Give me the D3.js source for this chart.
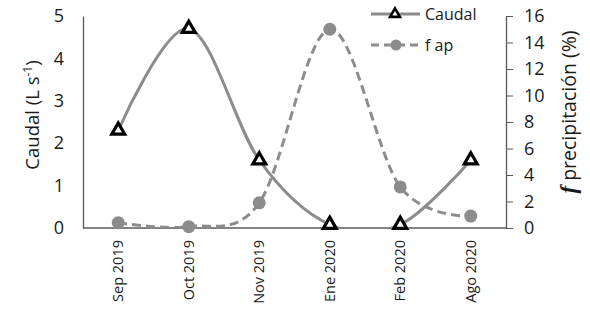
<!DOCTYPE html>
<html>
<head>
<meta charset="utf-8">
<script src="https://cdn.jsdelivr.net/npm/d3@7"></script>
<style>
  body { margin: 0; background: #fff; }
  text { font-family: 'Open Sans', 'Liberation Sans', sans-serif; }
</style>
</head>
<body>
<div id="container"></div>
<script>
const months = ['Sep 2019', 'Oct 2019', 'Nov 2019', 'Ene 2020', 'Feb 2020', 'Ago 2020'];
const caudal = [2.3, 4.7, 1.6, 0.08, 0.08, 1.6];
const fap = [0.4, 0.1, 1.9, 15.0, 3.1, 0.9];
const leftTicks = [0, 1, 2, 3, 4, 5];
const rightTicks = [0, 2, 4, 6, 8, 10, 12, 14, 16];

const svgWidth = 590,
  svgHeight = 319,
  plotLeft = 83,
  plotRight = 506,
  plotTop = 16,
  plotBottom = 228;

const svg = d3
  .select('#container')
  .append('svg')
  .attr('width', svgWidth)
  .attr('height', svgHeight);

svg.append('clipPath')
  .attr('id', 'plot-clip')
  .append('rect')
  .attr('x', plotLeft)
  .attr('y', 0)
  .attr('width', plotRight - plotLeft)
  .attr('height', plotBottom);

const xScale = d3.scaleBand().domain(months).range([plotLeft, plotRight]);
const yLeft = d3.scaleLinear().domain([0, 5]).range([plotBottom, plotTop]);
const yRight = d3.scaleLinear().domain([0, 16]).range([plotBottom, plotTop]);
const xc = (d) => xScale(d) + xScale.bandwidth() / 2;

// axes
const leftAxis = d3.axisLeft(yLeft).tickValues(leftTicks).tickFormat(d3.format('d')).tickSize(0).tickPadding(19);
svg.append('g')
  .attr('transform', `translate(${plotLeft},0)`)
  .call(leftAxis)
  .call((g) => g.select('.domain').attr('stroke', '#595959').attr('stroke-width', 1.3))
  .call((g) => g.selectAll('text').attr('font-size', 18).attr('fill', '#1a1a1a'));

const rightAxis = d3.axisRight(yRight).tickValues(rightTicks).tickSize(7).tickSizeOuter(0).tickPadding(11);
svg.append('g')
  .attr('transform', `translate(${plotRight},0)`)
  .call(rightAxis)
  .call((g) => g.select('.domain').attr('stroke', '#595959').attr('stroke-width', 1.3))
  .call((g) => g.selectAll('line').attr('stroke', '#595959'))
  .call((g) => g.selectAll('text').attr('font-size', 18).attr('fill', '#1a1a1a'));

// x axis
svg.append('line')
  .attr('x1', plotLeft).attr('x2', plotRight)
  .attr('y1', plotBottom).attr('y2', plotBottom)
  .attr('stroke', '#595959').attr('stroke-width', 1.3);

svg.selectAll('.xlabel')
  .data(months)
  .enter()
  .append('text')
  .attr('class', 'xlabel')
  .attr('transform', (d) => `translate(${xc(d) + 5},240) rotate(-90)`)
  .attr('text-anchor', 'end')
  .attr('font-size', 14.5)
  .attr('fill', '#1a1a1a')
  .text((d) => d);

// lines
const curve = d3.curveCatmullRom.alpha(0);
const caudalLine = d3.line().x((d, i) => xc(months[i])).y((d) => yLeft(d)).curve(curve);
const fapLine = d3.line().x((d, i) => xc(months[i])).y((d) => yRight(d)).curve(curve);

const plot = svg.append('g').attr('clip-path', 'url(#plot-clip)');

plot.append('path')
  .attr('d', fapLine(fap))
  .attr('fill', 'none')
  .attr('stroke', '#8c8c8c')
  .attr('stroke-width', 3)
  .attr('stroke-dasharray', '9,5');

plot.append('path')
  .attr('d', caudalLine(caudal))
  .attr('fill', 'none')
  .attr('stroke', '#8c8c8c')
  .attr('stroke-width', 3);

const tri = d3.symbol().type(d3.symbolTriangle).size(72);

svg.selectAll('.fdot')
  .data(fap)
  .enter()
  .append('circle')
  .attr('class', 'fdot')
  .attr('cx', (d, i) => xc(months[i]))
  .attr('cy', (d) => yRight(d))
  .attr('r', 6.5)
  .attr('fill', '#8c8c8c');

svg.selectAll('.cdot')
  .data(caudal)
  .enter()
  .append('path')
  .attr('class', 'cdot')
  .attr('d', tri)
  .attr('transform', (d, i) => `translate(${xc(months[i])},${yLeft(d)})`)
  .attr('fill', '#fff')
  .attr('stroke', '#000')
  .attr('stroke-width', 3.2);

// axis titles
svg.append('text')
  .attr('transform', 'translate(39,115) rotate(-90)')
  .attr('text-anchor', 'middle')
  .attr('font-size', 18.5)
  .attr('fill', '#1a1a1a')
  .html('Caudal (L s<tspan dy="-7" font-size="12">-1</tspan><tspan dy="7">)</tspan>');

svg.append('text')
  .attr('transform', 'translate(576,112) rotate(-90)')
  .attr('text-anchor', 'middle')
  .attr('font-size', 19.5)
  .attr('fill', '#1a1a1a')
  .html('<tspan font-weight="bold" font-style="italic" font-family="Liberation Serif" font-size="23">f</tspan> precipitación (%)');

// legend
const legend = svg.append('g');
legend.append('line')
  .attr('x1', 371).attr('x2', 420).attr('y1', 14).attr('y2', 14)
  .attr('stroke', '#8c8c8c').attr('stroke-width', 3);
legend.append('path')
  .attr('d', d3.symbol().type(d3.symbolTriangle).size(42))
  .attr('transform', 'translate(395,14)')
  .attr('fill', '#fff').attr('stroke', '#000').attr('stroke-width', 2.6);
legend.append('text')
  .attr('x', 425).attr('y', 20)
  .attr('font-size', 16).attr('fill', '#1a1a1a')
  .text('Caudal');

legend.append('line')
  .attr('x1', 371).attr('x2', 420).attr('y1', 45).attr('y2', 45)
  .attr('stroke', '#8c8c8c').attr('stroke-width', 3)
  .attr('stroke-dasharray', '8,5');
legend.append('circle')
  .attr('cx', 396).attr('cy', 45).attr('r', 5.5)
  .attr('fill', '#8c8c8c');
legend.append('text')
  .attr('x', 425).attr('y', 51)
  .attr('font-size', 16).attr('fill', '#1a1a1a')
  .text('f ap');
</script>
</body>
</html>
